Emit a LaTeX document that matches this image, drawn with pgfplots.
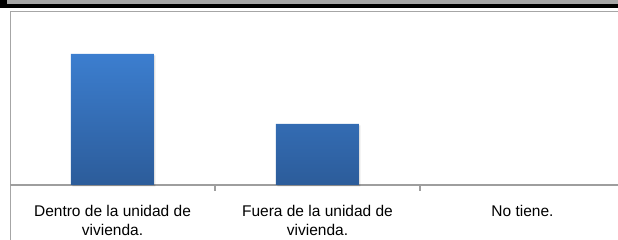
\documentclass[border=0pt]{standalone}
\usepackage{pgfplots}
\pgfplotsset{compat=1.18}
\usepackage{fontspec}
\setmainfont{Liberation Sans}
\definecolor{framegray}{HTML}{A6A6A6}
\definecolor{axisgray}{HTML}{9E9E9E}
\definecolor{bandgray}{HTML}{A6A6A6}
\definecolor{bartop}{HTML}{3C7ECF}
\definecolor{barbot}{HTML}{2C5C9A}
\begin{document}
\begin{tikzpicture}[x=1pt,y=1pt]
\useasboundingbox (0,0) rectangle (618,240);
% top band (cut-off title box)
\fill[black] (0,232) rectangle (618,240);
\fill[bandgray] (7,236) rectangle (618,240);
% chart frame
\draw[framegray, line width=1.5pt] (10.5,-5) -- (10.5,228.5) -- (630,228.5);
\begin{axis}[
  at={(10pt,55pt)}, anchor=south west,
  scale only axis,
  width=608pt, height=173pt,
  xmin=-0.5, xmax=2.466,
  ymin=0, ymax=90,
  axis x line*=bottom,
  axis y line*=left,
  y axis line style={draw=none},
  x axis line style={draw=axisgray, line width=1.5pt},
  ytick=\empty,
  xtick={0,1,2},
  major tick length=0pt,
  xticklabels={Dentro de la unidad de\\vivienda.,Fuera de la unidad de\\vivienda.,No tiene.},
  xticklabel style={align=center, anchor=north, yshift=-17pt, font=\fontsize{15.5}{19}\selectfont},
  extra x ticks={0.5,1.5},
  extra x tick labels={},
  extra x tick style={major tick length=6pt, tick align=outside, tick style={draw=axisgray, line width=1.2pt}},
  clip=false,
]
% shadow
\addplot[ybar, bar width=83pt, draw=none, fill=black, fill opacity=0.12, forget plot,
  transform canvas={xshift=1.5pt, yshift=-1.5pt}]
  coordinates {(0,68.2) (1,31.8)};
\addplot[ybar, bar width=83pt, draw=none, top color=bartop, bottom color=barbot]
  coordinates {(0,68.2) (1,31.8)};
\end{axis}
\end{tikzpicture}
\end{document}
